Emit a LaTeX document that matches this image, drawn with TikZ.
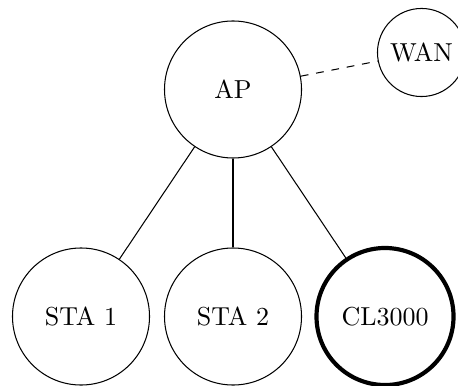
\documentclass[tikz,border=0pt]{standalone}
\begin{document}
\begin{tikzpicture}[x=0.384615pt,y=-0.384615pt,
  station/.style={draw,circle,minimum size=52.7pt,inner sep=0pt,line width=0.4pt},
  wan/.style={draw,circle,inner sep=3.33pt,line width=0.4pt},
  link/.style={line width=0.4pt}]
\useasboundingbox (0,0) rectangle (458,385);
\node[station] (ap) at (233,89.5) {AP};
\node[wan] (wan) at (421.5,52.5) {WAN};
\node[station] (sta1) at (81,316.5) {STA 1};
\node[station] (sta2) at (233,316.5) {STA 2};
\node[station,line width=1.6pt] (cl) at (385,316.5) {CL3000};
\draw[link,dashed] (ap) -- (wan);
\draw[link] (ap) -- (sta1);
\draw[link] (ap) -- (sta2);
\draw[link] (ap) -- (cl);
\end{tikzpicture}
\end{document}
